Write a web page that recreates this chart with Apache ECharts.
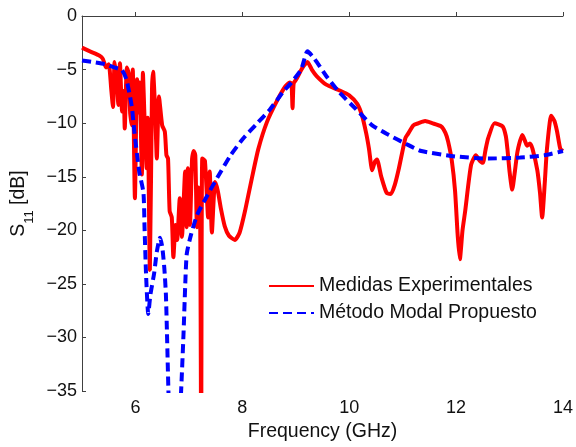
<!DOCTYPE html>
<html>
<head>
<meta charset="utf-8">
<script src="https://cdn.jsdelivr.net/npm/echarts@6/dist/echarts.min.js"></script>
<style>
html,body{margin:0;padding:0;background:#fff;}
#chart{width:576px;height:447px;}
</style>
</head>
<body>
<div id="chart"></div>
<script>
// Measured (Medidas Experimentales)
const freqMeasured = [5.00,5.15,5.33,5.39,5.45,5.50,5.55,5.58,5.61,5.65,5.68,5.71,5.75,5.78,5.80,5.84,5.88,5.90,5.93,5.95,5.99,6.03,6.06,6.08,6.12,6.14,6.17,6.21,6.23,6.27,6.31,6.33,6.37,6.40,6.44,6.50,6.55,6.58,6.61,6.64,6.68,6.71,6.75,6.78,6.83,6.87,6.93,6.96,6.98,7.02,7.06,7.09,7.12,7.15,7.18,7.21,7.23,7.25,7.30,7.36,7.39,7.43,7.49,7.54,7.60,7.67,7.75,7.86,7.95,8.05,8.18,8.30,8.46,8.65,8.80,8.89,8.92,8.94,8.96,9.01,9.13,9.22,9.30,9.39,9.57,9.80,10.00,10.15,10.24,10.32,10.37,10.43,10.48,10.52,10.60,10.70,10.78,10.85,10.93,11.05,11.10,11.20,11.30,11.42,11.55,11.72,11.80,11.85,11.92,11.98,12.03,12.07,12.12,12.17,12.28,12.37,12.44,12.50,12.55,12.60,12.72,12.87,12.93,12.96,13.00,13.05,13.10,13.15,13.24,13.30,13.33,13.38,13.43,13.52,13.57,13.61,13.66,13.70,13.78,13.84,13.89,13.95,14.00];
const dbMeasured = [-2.95,-3.3,-3.7,-4.0,-4.8,-4.5,-7.0,-8.5,-4.3,-6.0,-8.3,-4.4,-8.9,-7.0,-10.5,-4.8,-5.5,-9.0,-10.2,-5.0,-17.0,-5.9,-9.0,-6.2,-14.8,-5.3,-9.5,-14.2,-9.5,-23.7,-6.8,-5.2,-9.0,-13.3,-7.5,-10.2,-10.8,-13.0,-13.3,-18.2,-18.8,-22.5,-19.5,-20.9,-17.0,-20.6,-14.5,-19.7,-14.2,-19.5,-13.3,-12.6,-13.0,-19.7,-16.0,-18.0,-40.0,-13.3,-13.5,-18.8,-14.5,-20.2,-15.5,-16.3,-18.0,-19.6,-20.5,-20.9,-20.2,-18.2,-15.1,-12.4,-9.9,-7.9,-6.6,-6.2,-6.3,-8.6,-6.3,-5.9,-4.8,-4.3,-5.0,-5.6,-6.4,-6.9,-7.4,-8.2,-9.3,-11.0,-12.4,-14.4,-13.6,-13.4,-15.0,-16.5,-16.6,-15.8,-14.2,-11.4,-11.0,-10.2,-10.0,-9.8,-10.0,-10.3,-10.9,-11.7,-13.5,-16.3,-20.5,-22.7,-20.0,-18.2,-13.9,-13.0,-13.5,-13.7,-12.5,-11.4,-10.0,-10.3,-11.2,-12.4,-14.5,-16.2,-14.5,-12.6,-11.1,-11.8,-12.1,-11.9,-12.4,-14.4,-16.5,-18.8,-15.5,-12.4,-9.3,-9.8,-10.8,-12.4,-12.6];

// Model (Método Modal Propuesto)
const freqModel = [5.00,5.20,5.43,5.60,5.74,5.83,5.93,5.98,6.07,6.15,6.17,6.20,6.24,6.28,6.35,6.40,6.46,6.50,6.54,6.57,6.59,6.62,6.65,6.80,6.85,6.90,6.93,6.96,7.04,7.16,7.35,7.53,7.78,8.02,8.28,8.52,8.76,8.92,9.10,9.22,9.35,9.57,9.81,10.13,10.43,10.74,11.05,11.35,11.98,12.60,13.20,13.65,14.00];
const dbModel = [-4.15,-4.3,-4.5,-4.8,-5.0,-5.9,-8.4,-10.8,-14.5,-16.5,-19.7,-24.3,-27.8,-26.0,-24.0,-22.0,-20.7,-21.5,-23.5,-26.0,-29.6,-35.5,-40.0,-40.0,-35.5,-29.6,-25.3,-22.2,-20.4,-18.5,-16.7,-15.1,-13.0,-11.4,-10.0,-8.7,-7.1,-6.2,-5.0,-3.3,-4.0,-5.6,-7.1,-8.7,-10.2,-11.1,-11.9,-12.6,-13.1,-13.3,-13.2,-13.0,-12.6];

const xTicks = [6,8,10,12,14];
const seriesNames = ['Medidas Experimentales','Método Modal Propuesto'];

const pairs = (xs, ys) => xs.map((x, i) => [x, ys[i]]);
const FONT = '"Liberation Sans", Arial, Helvetica, sans-serif';

const chart = echarts.init(document.getElementById('chart'), null, {renderer: 'canvas'});
chart.setOption({
  animation: false,
  backgroundColor: '#ffffff',
  textStyle: {fontFamily: FONT},
  grid: {left: 82, right: 12, top: 16, bottom: 51, containLabel: false},
  legend: {
    left: 263, top: 271, orient: 'vertical',
    itemWidth: 45, itemHeight: 14, itemGap: 7,
    itemStyle: {opacity: 0},
    textStyle: {fontFamily: FONT, fontSize: 19.5, color: '#111'},
    data: seriesNames
  },
  xAxis: {
    type: 'value', min: 5, max: 14,
    name: 'Frequency (GHz)', nameLocation: 'middle', nameGap: 26,
    nameTextStyle: {fontFamily: FONT, fontSize: 19.5, color: '#111'},
    axisLine: {show: true, lineStyle: {color: '#404040', width: 1}},
    axisTick: {show: true, inside: true, length: 4, customValues: xTicks, lineStyle: {color: '#404040'}},
    axisLabel: {customValues: xTicks, fontFamily: FONT, fontSize: 18, color: '#111', margin: 8},
    splitLine: {show: false}
  },
  yAxis: {
    type: 'value', min: -35, max: 0, interval: 5,
    name: 'S{sub|11} [dB]', nameLocation: 'middle', nameGap: 52, nameRotate: 90,
    nameTextStyle: {fontFamily: FONT, fontSize: 19.5, color: '#111',
      rich: {sub: {fontFamily: FONT, fontSize: 13, color: '#111', verticalAlign: 'bottom', padding: [0,0,-7,0]}}},
    axisLine: {show: true, lineStyle: {color: '#404040', width: 1}},
    axisTick: {show: true, inside: true, length: 4, lineStyle: {color: '#404040'}},
    axisLabel: {fontFamily: FONT, fontSize: 18, color: '#111', margin: 5,
      formatter: v => v < 0 ? '\u2212' + Math.abs(v) : String(v)},
    splitLine: {show: false}
  },
  series: [
    {
      name: seriesNames[0], type: 'line', data: pairs(freqMeasured, dbMeasured),
      showSymbol: false, symbol: 'none', clip: true, smooth: 0.2,
      lineStyle: {color: '#ff0000', width: 4},
      itemStyle: {color: '#ff0000'}
    },
    {
      name: seriesNames[1], type: 'line', data: pairs(freqModel, dbModel),
      showSymbol: false, symbol: 'none', clip: true, smooth: 0.2,
      lineStyle: {color: '#0000ff', width: 4, type: [9, 5]},
      itemStyle: {color: '#0000ff'}
    }
  ]
});
</script>
</body>
</html>
